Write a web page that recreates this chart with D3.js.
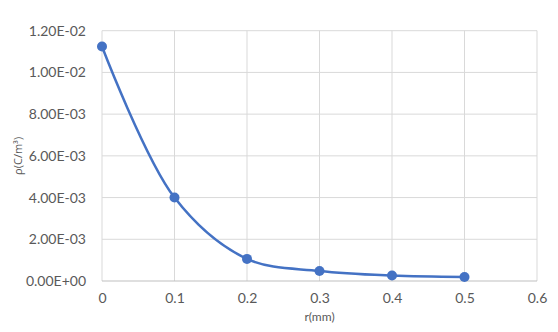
<!DOCTYPE html>
<html><head><meta charset="utf-8">
<script src="https://cdn.jsdelivr.net/npm/d3@7"></script>
<style>body{margin:0;background:#fff}svg{display:block}</style>
</head><body>
<script>
const rValues = [0, 0.1, 0.2, 0.3, 0.4, 0.5];
const rhoValues = [0.01124, 0.0040, 0.00106, 0.00048, 0.00026, 0.00019];
const xTicks = [0, 0.1, 0.2, 0.3, 0.4, 0.5, 0.6];
const yTicks = [0, 0.002, 0.004, 0.006, 0.008, 0.010, 0.012];
const yTickLabels = ["0.00E+00","2.00E-03","4.00E-03","6.00E-03","8.00E-03","1.00E-02","1.20E-02"];
const xTitle = "r(mm)";
const yTitle = "ρ(C/m³)";

const W = 558, H = 332;
const m = {left: 102, right: 21, top: 30.7, bottom: 51};
const svg = d3.select("body").append("svg").attr("width", W).attr("height", H);
const x = d3.scaleLinear().domain([0, 0.6]).range([m.left, W - m.right]);
const y = d3.scaleLinear().domain([0, 0.012]).range([H - m.bottom, m.top]);
const font = "Lato, 'Open Sans', sans-serif";
const font2 = "'Open Sans', sans-serif";

svg.append("g").selectAll("line").data(yTicks.slice(1)).join("line")
  .attr("x1", x(0)).attr("x2", x(0.6)).attr("y1", d => y(d)).attr("y2", d => y(d))
  .attr("stroke", "#d9d9d9").attr("stroke-width", 1);
svg.append("g").selectAll("line").data(xTicks).join("line")
  .attr("x1", d => x(d)).attr("x2", d => x(d)).attr("y1", y(0)).attr("y2", y(0.012))
  .attr("stroke", "#d9d9d9").attr("stroke-width", 1);
svg.append("line").attr("x1", x(0)).attr("x2", x(0.6)).attr("y1", y(0)).attr("y2", y(0))
  .attr("stroke", "#bfbfbf").attr("stroke-width", 1);

const xAxis = d3.axisBottom(x).tickValues(xTicks).tickFormat(d3.format("")).tickSize(0).tickPadding(12);
const gx = svg.append("g").attr("transform", `translate(0,${y(0)})`).call(xAxis);
gx.select(".domain").remove();
gx.selectAll("text").attr("fill", "#595959").style("font-family", font).style("font-size", "14px");

const yAxis = d3.axisLeft(y).tickValues(yTicks).tickFormat((d, i) => yTickLabels[i]).tickSize(0).tickPadding(16);
const gy = svg.append("g").attr("transform", `translate(${x(0)},0)`).call(yAxis);
gy.select(".domain").remove();
gy.selectAll("text").attr("fill", "#595959").style("font-family", font).style("font-size", "14px");

svg.append("text").attr("x", (x(0) + x(0.6)) / 2).attr("y", 321).attr("text-anchor", "middle")
  .attr("fill", "#595959").style("font-family", font).style("font-size", "12px").text(xTitle);
svg.append("text").attr("transform", `translate(22,${(y(0) + y(0.012)) / 2}) rotate(-90)`)
  .attr("text-anchor", "middle").attr("fill", "#595959").style("font-family", font2).style("font-size", "11px").text(yTitle);

const data = rValues.map((r, i) => [r, rhoValues[i]]);
const line = d3.line().x(d => x(d[0])).y(d => y(d[1])).curve(d3.curveCatmullRom.alpha(0.5));
svg.append("path").datum(data).attr("d", line).attr("fill", "none")
  .attr("stroke", "#4472C4").attr("stroke-width", 2.5);
svg.append("g").selectAll("circle").data(data).join("circle")
  .attr("cx", d => x(d[0])).attr("cy", d => y(d[1])).attr("r", 5)
  .attr("fill", "#4472C4");
</script>
</body></html>
